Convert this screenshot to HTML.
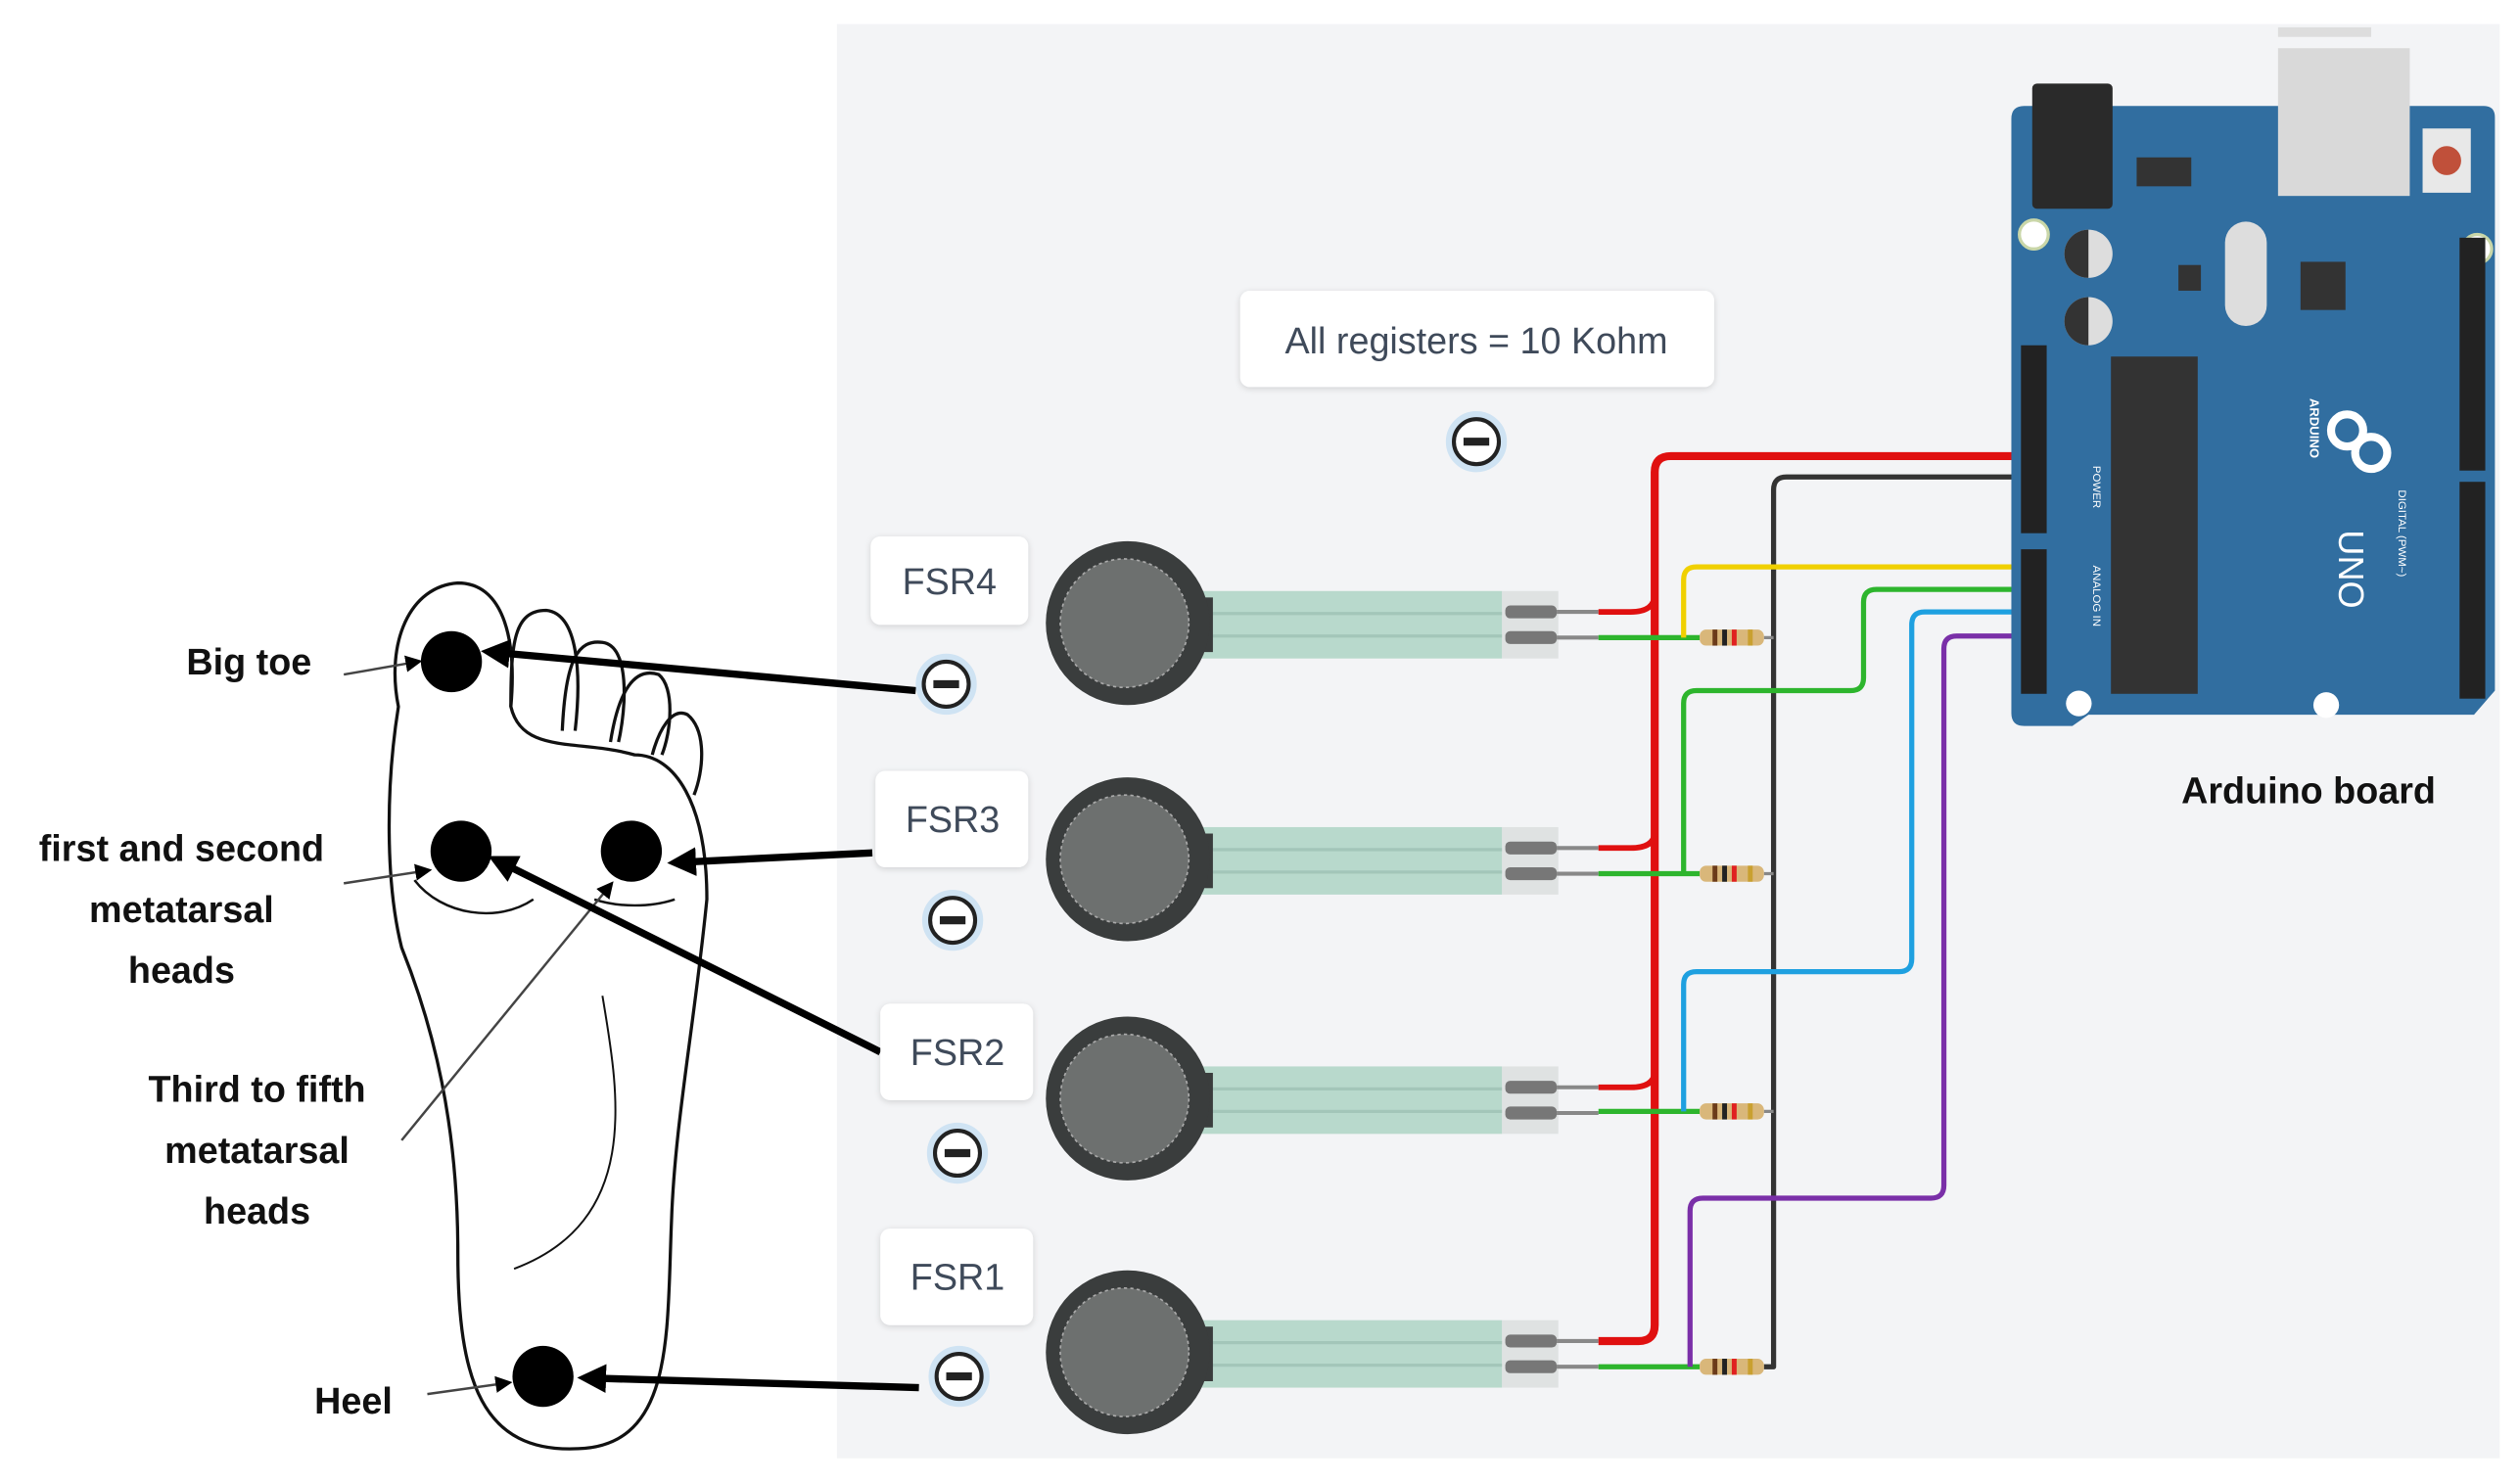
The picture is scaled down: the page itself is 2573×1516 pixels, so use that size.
<!DOCTYPE html>
<html><head><meta charset="utf-8"><style>
html,body{margin:0;padding:0;background:#fff}
svg{display:block}
text{font-family:"Liberation Sans",sans-serif}
</style></head><body>
<svg width="2573" height="1516" viewBox="0 0 1568 924" preserveAspectRatio="none" xmlns="http://www.w3.org/2000/svg">
<defs>
<marker id="ah" markerWidth="4" markerHeight="4" refX="2.5" refY="2" orient="auto" markerUnits="strokeWidth"><path d="M0,0 L4,2 L0,4 Z" fill="#000"/></marker>
<marker id="ahs" markerWidth="7" markerHeight="7" refX="5" refY="3.5" orient="auto" markerUnits="strokeWidth"><path d="M0,0 L7,3.5 L0,7 Z" fill="#000"/></marker>
<filter id="sh" x="-10%" y="-10%" width="120%" height="130%"><feDropShadow dx="0" dy="1" stdDeviation="2" flood-color="#000" flood-opacity="0.15"/></filter>
</defs>
<rect x="521" y="15" width="1035" height="893" fill="#f3f4f6"/>

<!-- foot -->
<g fill="none" stroke="#111" stroke-width="2">
<path d="M248,440 C240,400 255,365 285,363 C312,363 322,395 318,440 C325,470 360,460 395,470 C420,470 440,500 440,560 C432,640 420,700 418,760 C415,830 420,900 360,902 C300,905 285,860 285,780 C285,700 270,640 250,590 C240,550 240,490 248,440 Z"/>
<path d="M318,440 C318,400 320,380 340,380 C360,382 362,420 358,455"/>
<path d="M350,455 C352,410 360,398 375,400 C392,402 390,440 385,462"/>
<path d="M380,462 C385,430 395,415 410,420 C420,428 418,455 412,470"/>
<path d="M406,470 C410,455 418,440 428,445 C440,455 438,480 432,495"/>
<path d="M258,548 C275,570 310,575 332,560" stroke-width="1.5"/>
<path d="M370,560 C385,565 405,565 420,560" stroke-width="1.5"/>
<path d="M375,620 C385,680 400,760 320,790" stroke-width="1.2"/>
</g>
<circle cx="281" cy="412" r="19" fill="#000"/>
<circle cx="287" cy="530" r="19" fill="#000"/>
<circle cx="393" cy="530" r="19" fill="#000"/>
<circle cx="338" cy="857" r="19" fill="#000"/>

<!-- labels -->
<g font-weight="bold" font-size="23" fill="#111" text-anchor="middle">
<text x="155" y="420">Big toe</text>
<text x="113" y="536">first and second</text>
<text x="113" y="574">metatarsal</text>
<text x="113" y="612">heads</text>
<text x="160" y="686">Third to fifth</text>
<text x="160" y="724">metatarsal</text>
<text x="160" y="762">heads</text>
<text x="220" y="880">Heel</text>
</g>
<g stroke="#444" stroke-width="1.5" fill="none">
<line x1="214" y1="420" x2="260" y2="412" marker-end="url(#ahs)"/>
<line x1="214" y1="550" x2="266" y2="542" marker-end="url(#ahs)"/>
<line x1="250" y1="710" x2="380" y2="551" marker-end="url(#ahs)"/>
<line x1="266" y1="868" x2="316" y2="861" marker-end="url(#ahs)"/>
</g>
<g stroke="#000" stroke-width="4.5">
<line x1="570" y1="430" x2="306" y2="406" marker-end="url(#ah)"/>
<line x1="543" y1="531" x2="422" y2="537" marker-end="url(#ah)"/>
<line x1="548" y1="655" x2="310" y2="536" marker-end="url(#ah)"/>
<line x1="572" y1="864" x2="366" y2="858" marker-end="url(#ah)"/>
</g>

<!-- callouts -->
<g font-size="23" fill="#3f4a5a" text-anchor="middle">
<g filter="url(#sh)" fill="#fff"><rect x="542" y="334" width="98" height="55" rx="6"/><rect x="545" y="480" width="95" height="60" rx="6"/><rect x="548" y="625" width="95" height="60" rx="6"/><rect x="548" y="765" width="95" height="60" rx="6"/><rect x="772" y="181" width="295" height="60" rx="6"/></g>
<text x="591" y="370">FSR4</text>
<text x="593" y="518">FSR3</text>
<text x="596" y="663">FSR2</text>
<text x="596" y="803">FSR1</text>
<text x="919" y="220">All registers = 10 Kohm</text>
</g>
<g>
<g fill="#fff" stroke="#cfe3f3" stroke-width="4"><circle cx="589" cy="426" r="17"/><circle cx="593" cy="573" r="17"/><circle cx="596" cy="718" r="17"/><circle cx="597" cy="857" r="17"/><circle cx="919" cy="275" r="17"/></g>
<g fill="#fff" stroke="#222" stroke-width="2.5"><circle cx="589" cy="426" r="14"/><circle cx="593" cy="573" r="14"/><circle cx="596" cy="718" r="14"/><circle cx="597" cy="857" r="14"/><circle cx="919" cy="275" r="14"/></g>
<g stroke="#222" stroke-width="5"><line x1="581" y1="426" x2="597" y2="426"/><line x1="585" y1="573" x2="601" y2="573"/><line x1="588" y1="718" x2="604" y2="718"/><line x1="589" y1="857" x2="605" y2="857"/><line x1="911" y1="275" x2="927" y2="275"/></g>
</g>

<!-- sensors -->
<g id="s">
<rect x="745" y="368" width="190" height="42" fill="#b8d9cc"/>
<line x1="750" y1="382" x2="935" y2="382" stroke="#a3c6b9" stroke-width="2"/>
<line x1="750" y1="396" x2="935" y2="396" stroke="#a3c6b9" stroke-width="2"/>
<rect x="935" y="368" width="35" height="42" fill="#dfe2e2"/>
<rect x="937" y="377" width="32" height="8" rx="3" fill="#777"/>
<rect x="937" y="393" width="32" height="8" rx="3" fill="#777"/>
<line x1="969" y1="381" x2="995" y2="381" stroke="#888" stroke-width="2.5"/>
<line x1="969" y1="397" x2="995" y2="397" stroke="#888" stroke-width="2.5"/>
<rect x="740" y="372" width="15" height="34" fill="#3a3d3d"/>
<circle cx="702" cy="388" r="51" fill="#3a3d3d"/>
<circle cx="700" cy="388" r="40" fill="#6d706f" stroke="#aaa" stroke-width="1" stroke-dasharray="2,2"/>
</g>
<use href="#s" y="147"/>
<use href="#s" y="296"/>
<use href="#s" y="454"/>

<!-- wires -->
<g fill="none" stroke-width="3.2" stroke-linejoin="round">
<path d="M1265,284 H1040 Q1030,284 1030,294 V825 Q1030,835 1020,835 H995" stroke="#e01010" stroke-width="5"/>
<path d="M995,381 H1015 Q1030,381 1030,370" stroke="#e01010" stroke-width="3.5"/>
<path d="M995,528 H1015 Q1030,528 1030,518" stroke="#e01010" stroke-width="3.5"/>
<path d="M995,677 H1015 Q1030,677 1030,667" stroke="#e01010" stroke-width="3.5"/>
<path d="M1265,297 H1112 Q1104,297 1104,305 V851 H1098" stroke="#333"/>
<path d="M1098,397 H1104 M1098,544 H1104 M1098,692 H1104" stroke="#888" stroke-width="2"/>
<path d="M995,397 H1058 M995,544 H1058 M995,692 H1058 M995,851 H1058" stroke="#2db52d"/>
<path d="M1048,397 V361 Q1048,353 1056,353 H1265" stroke="#f0d000"/>
<path d="M1048,544 V438 Q1048,430 1056,430 H1152 Q1160,430 1160,422 V375 Q1160,367 1168,367 H1265" stroke="#2db52d"/>
<path d="M1048,692 V613 Q1048,605 1056,605 H1182 Q1190,605 1190,597 V389 Q1190,381 1198,381 H1265" stroke="#1ea0e0"/>
<path d="M1052,851 V754 Q1052,746 1060,746 H1202 Q1210,746 1210,738 V404 Q1210,396 1218,396 H1265" stroke="#7a2fa8"/>
</g>
<g id="r">
<rect x="1058" y="392" width="40" height="10" rx="4" fill="#d9b77a"/>
<rect x="1066" y="392" width="3" height="10" fill="#6b3b1a"/>
<rect x="1072" y="392" width="3" height="10" fill="#222"/>
<rect x="1078" y="392" width="3" height="10" fill="#e02020"/>
<rect x="1088" y="392" width="3" height="10" fill="#c9a030"/>
</g>
<use href="#r" y="147"/>
<use href="#r" y="295"/>
<use href="#r" y="454"/>

<!-- arduino -->
<rect x="1418" y="17" width="58" height="6" fill="#ddd"/>
<path d="M1260,66 H1546 Q1553,66 1553,73 V430 L1540,445 H1300 L1290,452 H1260 Q1252,452 1252,444 V74 Q1252,66 1260,66 Z" fill="#316ea0"/>
<rect x="1265" y="52" width="50" height="78" rx="3" fill="#2a2a2a"/>
<rect x="1418" y="30" width="82" height="92" fill="#d9d9d9"/>
<rect x="1508" y="80" width="30" height="40" fill="#e8e8e8"/>
<circle cx="1523" cy="100" r="9" fill="#c0503a"/>
<rect x="1330" y="98" width="34" height="18" fill="#333"/>
<circle cx="1266" cy="146" r="9" fill="#fff" stroke="#c9d6a8" stroke-width="2"/>
<circle cx="1542" cy="155" r="9" fill="#fff" stroke="#c9d6a8" stroke-width="2"/>
<circle cx="1294" cy="438" r="8" fill="#fff"/>
<circle cx="1448" cy="439" r="8" fill="#fff"/>
<circle cx="1300" cy="158" r="15" fill="#ddd"/><path d="M1300,143 A15,15 0 0 0 1300,173 Z" fill="#333"/>
<circle cx="1300" cy="200" r="15" fill="#ddd"/><path d="M1300,185 A15,15 0 0 0 1300,215 Z" fill="#333"/>
<rect x="1385" y="138" width="26" height="65" rx="13" fill="#ddd"/>
<rect x="1356" y="165" width="14" height="16" fill="#333"/>
<rect x="1432" y="163" width="28" height="30" fill="#333"/>
<rect x="1314" y="222" width="54" height="210" fill="#333"/>
<rect x="1258" y="215" width="16" height="117" fill="#222"/>
<rect x="1258" y="342" width="16" height="90" fill="#222"/>
<rect x="1531" y="148" width="16" height="145" fill="#222"/>
<rect x="1531" y="300" width="16" height="135" fill="#222"/>
<g fill="none" stroke="#fff" stroke-width="5"><circle cx="1461" cy="268" r="10"/><circle cx="1476" cy="268" r="10" transform="translate(0,14)"/></g>
<text x="0" y="0" transform="translate(1456,330) rotate(90)" font-size="22" fill="#fff">UNO</text>
<text x="0" y="0" transform="translate(1438,248) rotate(90)" font-size="8" fill="#fff" font-weight="bold">ARDUINO</text>
<text x="0" y="0" transform="translate(1493,305) rotate(90)" font-size="7" fill="#fff">DIGITAL (PWM~)</text>
<text x="0" y="0" transform="translate(1303,290) rotate(90)" font-size="7" fill="#fff">POWER</text>
<text x="0" y="0" transform="translate(1303,352) rotate(90)" font-size="7" fill="#fff">ANALOG IN</text>
<text x="1437" y="500" font-size="23" font-weight="bold" fill="#111" text-anchor="middle">Arduino board</text>
</svg>
</body></html>
